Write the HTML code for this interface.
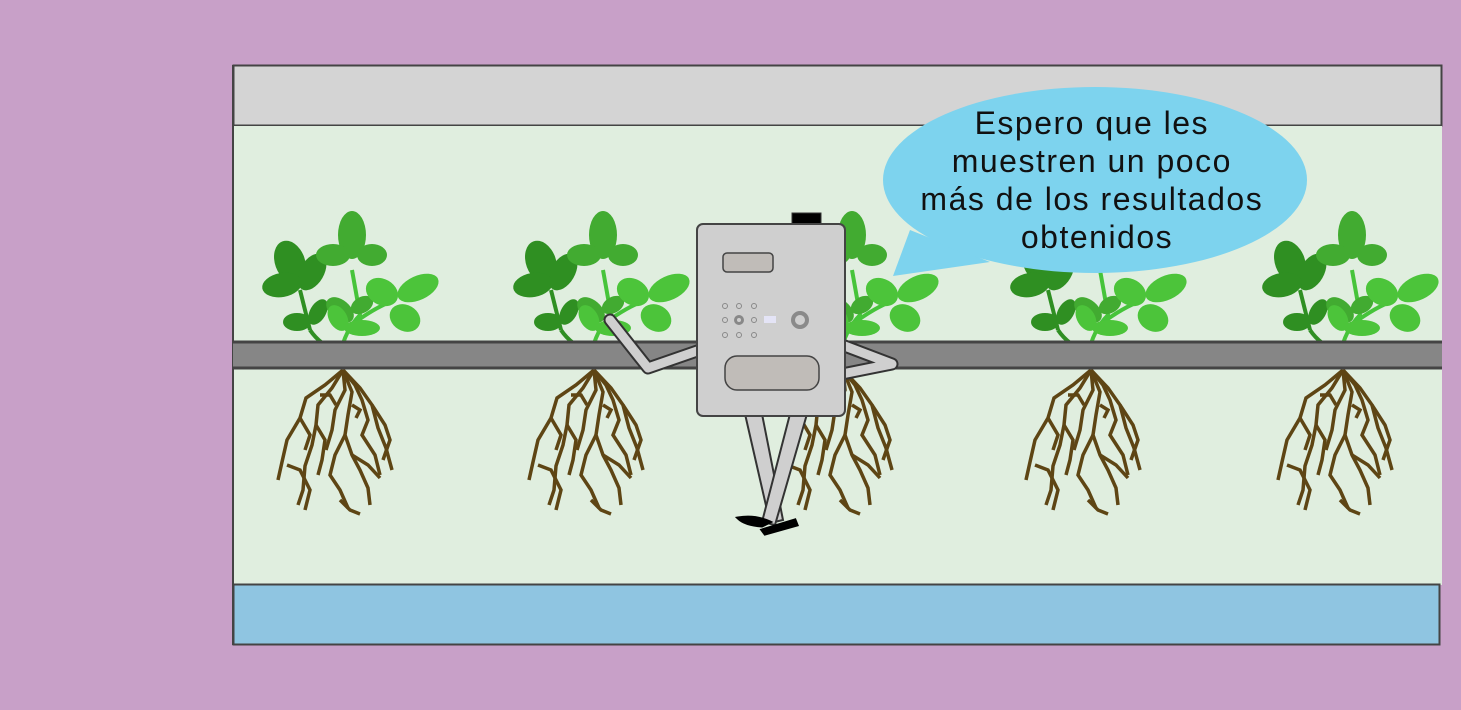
<!DOCTYPE html>
<html><head><meta charset="utf-8"><style>
html,body{margin:0;padding:0;background:#c8a0c8;}
svg{display:block}
</style></head><body>
<svg width="1461" height="710" viewBox="0 0 1461 710">
<defs>
<g id="plant">
  <g fill="none" stroke="#5e4514" stroke-width="3.5" stroke-linejoin="miter">
    <polyline points="343,370 325,385 306,398 300,418 287,440 282,462 278,480"/>
    <polyline points="343,370 332,388 318,405 316,425 312,445 305,466 303,490 298,505"/>
    <polyline points="343,370 345,390 335,410 332,430 326,450"/>
    <polyline points="343,370 352,392 348,415 345,435 352,455 360,470 368,488 370,505"/>
    <polyline points="343,370 360,388 372,405 378,428 386,448 392,470"/>
    <polyline points="343,370 355,385 362,400 368,420 362,435 375,455 380,475"/>
    <polyline points="316,425 325,440 322,460 318,475"/>
    <polyline points="300,418 310,435 305,450"/>
    <polyline points="345,435 335,455 330,475 340,490 348,508"/>
    <polyline points="352,455 368,465 380,478"/>
    <polyline points="372,405 385,425 390,440 383,460"/>
    <polyline points="287,465 300,470 310,490 305,510"/>
    <polyline points="320,395 330,395 336,405"/>
    <polyline points="352,405 360,410 356,418"/>
    <polyline points="340,500 350,510 360,514"/>
  </g>
  <g>
    <path d="M310,330 Q320,345 340,353" stroke="#2f8f23" stroke-width="4" fill="none"/>
    <path d="M300,290 L310,330" stroke="#2f8f23" stroke-width="4" fill="none"/>
    <path d="M340,355 Q345,330 360,315 L352,270" stroke="#46c43a" stroke-width="4" fill="none"/>
    <path d="M345,330 Q370,310 390,302" stroke="#46c43a" stroke-width="4" fill="none"/>
    <g fill="#2f8f22">
      <ellipse cx="290" cy="262" rx="15" ry="22" transform="rotate(-20 290 262)"/>
      <ellipse cx="312" cy="272" rx="12" ry="20" transform="rotate(30 312 272)"/>
      <ellipse cx="282" cy="285" rx="20" ry="12" transform="rotate(-10 282 285)"/>
      <ellipse cx="297" cy="322" rx="14" ry="9"/>
      <ellipse cx="318" cy="312" rx="8" ry="14" transform="rotate(30 318 312)"/>
    </g>
    <g fill="#42ab31">
      <ellipse cx="352" cy="235" rx="14" ry="24"/>
      <ellipse cx="333" cy="255" rx="17" ry="11"/>
      <ellipse cx="372" cy="255" rx="15" ry="11"/>
      <ellipse cx="340" cy="310" rx="16" ry="10" transform="rotate(40 340 310)"/>
      <ellipse cx="362" cy="305" rx="12" ry="8" transform="rotate(-30 362 305)"/>
    </g>
    <g fill="#4cc43a">
      <ellipse cx="418" cy="288" rx="22" ry="12" transform="rotate(-25 418 288)"/>
      <ellipse cx="382" cy="292" rx="17" ry="13" transform="rotate(30 382 292)"/>
      <ellipse cx="405" cy="318" rx="16" ry="13" transform="rotate(30 405 318)"/>
      <ellipse cx="362" cy="328" rx="18" ry="8"/>
      <ellipse cx="338" cy="318" rx="9" ry="14" transform="rotate(-30 338 318)"/>
    </g>
  </g>
</g>
</defs>

<rect x="233.5" y="65.5" width="1208" height="60" fill="#d4d4d4" stroke="#444" stroke-width="2"/>
<rect x="233" y="126" width="1209" height="459" fill="#e0eedf"/>
<rect x="233.5" y="584.5" width="1206" height="60" fill="#8fc5e1" stroke="#444" stroke-width="2"/>
<line x1="233" y1="65" x2="233" y2="645" stroke="#444" stroke-width="2"/>

<use href="#plant" x="0"/>
<use href="#plant" x="251"/>
<use href="#plant" x="500"/>
<use href="#plant" x="748"/>
<use href="#plant" x="1000"/>

<g>
  <rect x="233" y="342" width="1209" height="26" fill="#868686"/>
  <line x1="233" y1="342" x2="1442" y2="342" stroke="#444" stroke-width="3"/>
  <line x1="233" y1="368" x2="1442" y2="368" stroke="#444" stroke-width="3"/>
</g>

<g>
  <g>
    <polygon points="745,414 762,414 783,520 770,523" fill="#cfcfcf" stroke="#333" stroke-width="2"/>
    <polygon points="790,414 807,414 775,525 762,522" fill="#cfcfcf" stroke="#333" stroke-width="2"/>
    <path d="M738,518 Q755,515 770,522 L762,526 Q745,525 738,518Z" fill="#000" stroke="#000" stroke-width="3"/>
    <path d="M762,530 L795,520 L797,525 L765,534Z" fill="#000" stroke="#000" stroke-width="3"/>
  </g>
  <polyline points="610,320 648,368 700,350" fill="none" stroke="#333" stroke-width="13" stroke-linejoin="round" stroke-linecap="round"/>
  <polyline points="610,320 648,368 700,350" fill="none" stroke="#cfcfcf" stroke-width="9" stroke-linejoin="round" stroke-linecap="round"/>
  <polyline points="842,345 892,364 842,374" fill="none" stroke="#333" stroke-width="13" stroke-linejoin="round" stroke-linecap="round"/>
  <polyline points="842,345 892,364 842,374" fill="none" stroke="#cfcfcf" stroke-width="9" stroke-linejoin="round" stroke-linecap="round"/>
  <rect x="792" y="213" width="29" height="12" fill="#000" stroke="#333"/>
  <rect x="697" y="224" width="148" height="192" rx="6" fill="#cfcfcf" stroke="#444" stroke-width="2"/>
  <rect x="723" y="253" width="50" height="19" rx="4" fill="#c0bcb8" stroke="#444" stroke-width="1.5"/>
  <g fill="none" stroke="#888" stroke-width="1">
    <circle cx="725" cy="306" r="2.5"/><circle cx="739" cy="306" r="2.5"/><circle cx="754" cy="306" r="2.5"/>
    <circle cx="725" cy="320" r="2.5"/><circle cx="754" cy="320" r="2.5"/>
    <circle cx="725" cy="335" r="2.5"/><circle cx="739" cy="335" r="2.5"/><circle cx="754" cy="335" r="2.5"/>
  </g>
  <circle cx="739" cy="320" r="3.5" fill="none" stroke="#888" stroke-width="3"/>
  <rect x="764" y="316" width="12" height="7" fill="#e4e4f6"/>
  <circle cx="800" cy="320" r="7" fill="none" stroke="#8a8a8a" stroke-width="4"/>
  <rect x="725" y="356" width="94" height="34" rx="12" fill="#c0bcb8" stroke="#444" stroke-width="1.5"/>
</g>

<g>
  <path d="M910,230 L893,276 L990,262Z" fill="#7dd3ee"/>
  <ellipse cx="1095" cy="180" rx="212" ry="93" fill="#7dd3ee"/>
  <text font-family="Liberation Sans, sans-serif" font-size="32" letter-spacing="1.5" fill="#111" text-anchor="middle">
    <tspan x="1097" y="134">Espero que les</tspan>
    <tspan x="1097" y="172">muestren un poco</tspan>
    <tspan x="1097" y="210">más de los resultados</tspan>
    <tspan x="1097" y="248">obtenidos</tspan>
  </text>
</g>
</svg>
</body></html>
